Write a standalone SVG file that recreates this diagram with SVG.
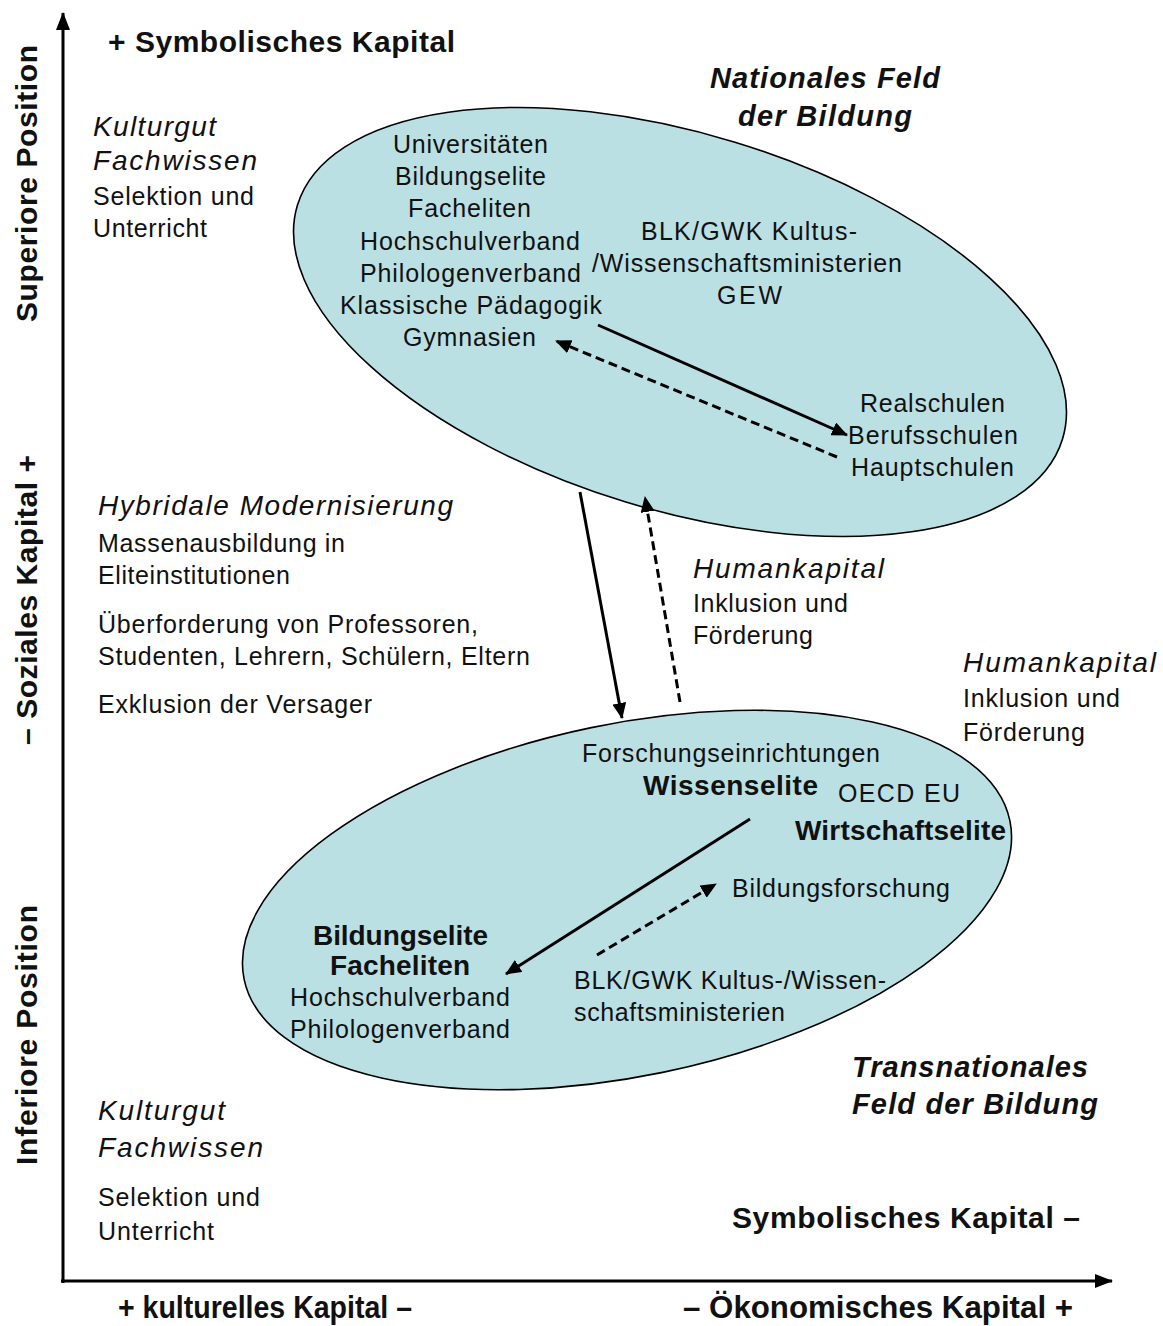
<svg xmlns="http://www.w3.org/2000/svg" width="1163" height="1326" viewBox="0 0 1163 1326">
<style>
text{font-family:"Liberation Sans",Arial,sans-serif;fill:#111}
.r{font-size:25px}
.i{font-size:28px;font-style:italic}
.b{font-size:30px;font-weight:bold}
.bi{font-size:29px;font-weight:bold;font-style:italic}
.bm{font-size:28px;font-weight:bold}
.v{font-size:30px;font-weight:bold}
.cond{font-size:32px;font-weight:bold}
.field{fill:#bbe0e3;stroke:#000;stroke-width:1.6}
.ax{stroke:#000;stroke-width:3;fill:none}
.s{stroke:#000;stroke-width:3;fill:none}
.d{stroke:#000;stroke-width:3;fill:none;stroke-dasharray:9 5}
</style>
<defs>
<marker id="ah" viewBox="0 0 16 14" markerWidth="16" markerHeight="14" refX="15" refY="7" orient="auto" markerUnits="userSpaceOnUse">
<path d="M0,0 L16,7 L0,14 z" fill="#000"/>
</marker>
<marker id="axh" viewBox="0 0 18 14" markerWidth="18" markerHeight="14" refX="17" refY="7" orient="auto" markerUnits="userSpaceOnUse">
<path d="M0,0 L18,7 L0,14 z" fill="#000"/>
</marker>
</defs>

<g id="axes">
<line class="ax" x1="63" y1="1283" x2="63" y2="13" marker-end="url(#axh)"/>
<line class="ax" x1="61" y1="1281" x2="1112" y2="1281" marker-end="url(#axh)"/>
</g>

<g id="national-field">
<ellipse class="field" cx="680" cy="322" rx="400" ry="188" transform="rotate(17 680 322)"/>
<text class="r" x="393" y="153" textLength="155" lengthAdjust="spacing">Universitäten</text>
<text class="r" x="395" y="185" textLength="151" lengthAdjust="spacing">Bildungselite</text>
<text class="r" x="408" y="217" textLength="123" lengthAdjust="spacing">Facheliten</text>
<text class="r" x="360" y="250" textLength="220" lengthAdjust="spacing">Hochschulverband</text>
<text class="r" x="360" y="282" textLength="221" lengthAdjust="spacing">Philologenverband</text>
<text class="r" x="340" y="314" textLength="262" lengthAdjust="spacing">Klassische Pädagogik</text>
<text class="r" x="403" y="346" textLength="133" lengthAdjust="spacing">Gymnasien</text>
<text class="r" x="641" y="240" textLength="216" lengthAdjust="spacing">BLK/GWK Kultus-</text>
<text class="r" x="592" y="272" textLength="310" lengthAdjust="spacing">/Wissenschaftsministerien</text>
<text class="r" x="717" y="304" textLength="65" lengthAdjust="spacing">GEW</text>
<text class="r" x="860" y="412" textLength="145" lengthAdjust="spacing">Realschulen</text>
<text class="r" x="848" y="444" textLength="170" lengthAdjust="spacing">Berufsschulen</text>
<text class="r" x="851" y="476" textLength="163" lengthAdjust="spacing">Hauptschulen</text>
</g>

<g id="transnational-field">
<ellipse class="field" cx="627" cy="900" rx="391" ry="176" transform="rotate(-11.7 627 900)"/>
<text class="r" x="582" y="762" textLength="298" lengthAdjust="spacing">Forschungseinrichtungen</text>
<text class="bm" x="643" y="795" textLength="175" lengthAdjust="spacing">Wissenselite</text>
<text class="r" x="838" y="802" textLength="122" lengthAdjust="spacing">OECD EU</text>
<text class="bm" x="795" y="840" textLength="211" lengthAdjust="spacing">Wirtschaftselite</text>
<text class="r" x="732" y="897" textLength="218" lengthAdjust="spacing">Bildungsforschung</text>
<text class="bm" x="313" y="945" textLength="175" lengthAdjust="spacing">Bildungselite</text>
<text class="bm" x="330" y="975" textLength="140" lengthAdjust="spacing">Facheliten</text>
<text class="r" x="290" y="1006" textLength="220" lengthAdjust="spacing">Hochschulverband</text>
<text class="r" x="290" y="1038" textLength="220" lengthAdjust="spacing">Philologenverband</text>
<text class="r" x="574" y="989" textLength="312" lengthAdjust="spacing">BLK/GWK Kultus-/Wissen-</text>
<text class="r" x="574" y="1021" textLength="211" lengthAdjust="spacing">schaftsministerien</text>
</g>

<g id="connectors">
<line class="s" x1="598" y1="325" x2="847" y2="435" marker-end="url(#ah)"/>
<line class="d" x1="837" y1="457" x2="556" y2="341" marker-end="url(#ah)"/>
<line class="s" x1="580" y1="492" x2="622" y2="718" marker-end="url(#ah)"/>
<line class="d" x1="680" y1="702" x2="645" y2="497" marker-end="url(#ah)"/>
<line class="s" x1="750" y1="819" x2="506" y2="974" marker-end="url(#ah)"/>
<line class="d" x1="597" y1="955" x2="716" y2="884" marker-end="url(#ah)"/>
</g>

<g id="label-symbolic-top">
<text class="b" x="108" y="52" textLength="347" lengthAdjust="spacing">+ Symbolisches Kapital</text>
</g>
<g id="label-national">
<text class="bi" x="710" y="88" textLength="230" lengthAdjust="spacing">Nationales Feld</text>
<text class="bi" x="738" y="126" textLength="174" lengthAdjust="spacing">der Bildung</text>
</g>
<g id="label-kulturgut-top">
<text class="i" x="93" y="136" textLength="123" lengthAdjust="spacing">Kulturgut</text>
<text class="i" x="93" y="170" textLength="164" lengthAdjust="spacing">Fachwissen</text>
<text class="r" x="93" y="205" textLength="161" lengthAdjust="spacing">Selektion und</text>
<text class="r" x="93" y="237" textLength="114" lengthAdjust="spacing">Unterricht</text>
</g>
<g id="label-hybrid">
<text class="i" x="98" y="515" textLength="355" lengthAdjust="spacing">Hybridale Modernisierung</text>
<text class="r" x="98" y="552" textLength="247" lengthAdjust="spacing">Massenausbildung in</text>
<text class="r" x="98" y="584" textLength="192" lengthAdjust="spacing">Eliteinstitutionen</text>
<text class="r" x="98" y="633" textLength="380" lengthAdjust="spacing">Überforderung von Professoren,</text>
<text class="r" x="98" y="665" textLength="432" lengthAdjust="spacing">Studenten, Lehrern, Schülern, Eltern</text>
<text class="r" x="98" y="713" textLength="274" lengthAdjust="spacing">Exklusion der Versager</text>
</g>
<g id="label-humankapital-1">
<text class="i" x="693" y="578" textLength="191" lengthAdjust="spacing">Humankapital</text>
<text class="r" x="693" y="612" textLength="155" lengthAdjust="spacing">Inklusion und</text>
<text class="r" x="693" y="644" textLength="120" lengthAdjust="spacing">Förderung</text>
</g>
<g id="label-humankapital-2">
<text class="i" x="963" y="672" textLength="193" lengthAdjust="spacing">Humankapital</text>
<text class="r" x="963" y="707" textLength="157" lengthAdjust="spacing">Inklusion und</text>
<text class="r" x="963" y="741" textLength="122" lengthAdjust="spacing">Förderung</text>
</g>
<g id="label-transnational">
<text class="bi" x="852" y="1077" textLength="236" lengthAdjust="spacing">Transnationales</text>
<text class="bi" x="852" y="1114" textLength="246" lengthAdjust="spacing">Feld der Bildung</text>
</g>
<g id="label-kulturgut-bottom">
<text class="i" x="98" y="1120" textLength="127" lengthAdjust="spacing">Kulturgut</text>
<text class="i" x="98" y="1157" textLength="165" lengthAdjust="spacing">Fachwissen</text>
<text class="r" x="98" y="1206" textLength="162" lengthAdjust="spacing">Selektion und</text>
<text class="r" x="98" y="1240" textLength="116" lengthAdjust="spacing">Unterricht</text>
</g>
<g id="label-symbolic-bottom">
<text class="b" x="732" y="1228" textLength="348" lengthAdjust="spacing">Symbolisches Kapital –</text>
</g>
<g id="label-axes-x">
<text class="cond" x="118" y="1318" textLength="294" lengthAdjust="spacingAndGlyphs">+ kulturelles Kapital –</text>
<text class="cond" x="683" y="1318" textLength="390" lengthAdjust="spacingAndGlyphs">– Ökonomisches Kapital +</text>
</g>
<g id="label-axes-y">
<text class="v" transform="translate(37,322) rotate(-90)" x="0" y="0" textLength="277" lengthAdjust="spacing">Superiore Position</text>
<text class="v" transform="translate(37,745) rotate(-90)" x="0" y="0" textLength="290" lengthAdjust="spacing">– Soziales Kapital +</text>
<text class="v" transform="translate(37,1165) rotate(-90)" x="0" y="0" textLength="260" lengthAdjust="spacing">Inferiore Position</text>
</g>
</svg>
